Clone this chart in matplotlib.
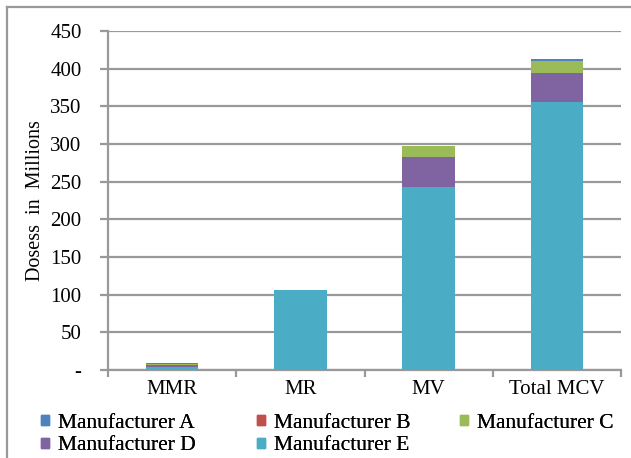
import matplotlib
matplotlib.use("Agg")
import matplotlib.pyplot as plt
from matplotlib.lines import Line2D
import numpy as np

plt.rcParams['font.family'] = ['Liberation Serif', 'DejaVu Serif']

categories = ['MMR', 'MR', 'MV', 'Total MCV']
series = ['Manufacturer A', 'Manufacturer B', 'Manufacturer C',
          'Manufacturer D', 'Manufacturer E']
# stacked bottom-up: E, D, C, B, A
manu_e = [4, 106, 243, 356]
manu_d = [2, 0, 40, 38]
manu_c = [2, 0, 15, 16]
manu_b = [0.3, 0, 0, 0.3]
manu_a = [1, 0, 0, 3]
colors = {'Manufacturer A': '#4F81BD', 'Manufacturer B': '#C0504D',
          'Manufacturer C': '#9BBB59', 'Manufacturer D': '#8064A2',
          'Manufacturer E': '#4BACC6'}
yticks = [0, 50, 100, 150, 200, 250, 300, 350, 400, 450]
yticklabels = ['-', '50', '100', '150', '200', '250', '300', '350', '400', '450']

fig = plt.figure(figsize=(6.31, 4.58), dpi=100)
ax = fig.add_axes([108/631, 1 - 370/458, 513/631, 339/458])

x = np.arange(len(categories))
stack = [('Manufacturer E', manu_e), ('Manufacturer D', manu_d),
         ('Manufacturer C', manu_c), ('Manufacturer B', manu_b),
         ('Manufacturer A', manu_a)]
bottom = np.zeros(len(categories))
for name, vals in stack:
    ax.bar(x, vals, 0.41, bottom=bottom, color=colors[name], zorder=3)
    bottom += np.array(vals)

ax.set_xlim(-0.5, 3.5)
ax.set_ylim(0, 450)
ax.set_yticks(yticks)
ax.set_yticklabels(yticklabels, fontsize=15)
ax.yaxis.grid(True, color='#999999', linewidth=1.6, zorder=0)
ax.set_xticks(x)
ax.set_xticklabels(categories, fontsize=15)
ax.tick_params(axis='x', length=0, pad=7)
ax.set_xticks([-0.5, 0.5, 1.5, 2.5, 3.5], minor=True)
ax.tick_params(axis='x', which='minor', length=5, color='#999999', width=1.6)
ax.tick_params(axis='y', length=6, color='#999999', width=1.6, pad=13)
for s in ['top', 'right']:
    ax.spines[s].set_visible(False)
for s in ['left', 'bottom']:
    ax.spines[s].set_color('#999999')
    ax.spines[s].set_linewidth(1.6)
ax.set_ylabel('Dosess  in  Millions', fontsize=14.5, labelpad=4)

# outer chart frame (top and left edges visible)
fig.add_artist(Line2D([7/631, 7/631], [0, 1 - 7/458], color='#999999', lw=1.6))
fig.add_artist(Line2D([7/631, 1], [1 - 7/458, 1 - 7/458], color='#999999', lw=1.6))

# legend laid out in rows like the original: A B C / D E
legend_cols = [(['Manufacturer A', 'Manufacturer D'], 41),
               (['Manufacturer B', 'Manufacturer E'], 257),
               (['Manufacturer C'], 460)]
for names, xpx in legend_cols:
    handles = [plt.Rectangle((0, 0), 1, 1, color=colors[n]) for n in names]
    leg = fig.legend(handles, names, loc='upper left',
                     bbox_to_anchor=(xpx/631, 1 - 414/458), frameon=False,
                     fontsize=15.5, handlelength=0.35, handleheight=0.35,
                     handletextpad=0.45, labelspacing=0.16, borderpad=0,
                     borderaxespad=0)
    fig.add_artist(leg)

fig.savefig('out.png', dpi=100)
